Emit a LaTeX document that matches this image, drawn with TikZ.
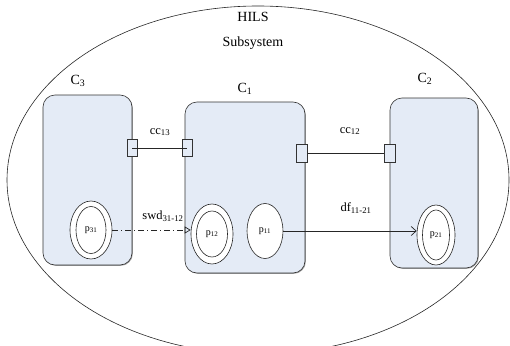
\documentclass[tikz,border=0pt]{standalone}
\usepackage{fontspec}
\setmainfont{Liberation Serif}
\usetikzlibrary{arrows.meta,shapes.geometric,shadows}
\definecolor{compfill}{HTML}{E4EBF6}
\begin{document}
\begin{tikzpicture}[x=1pt,y=-1pt,
  comp/.style={draw=black!80, fill=compfill, rounded corners=12pt, line width=0.6pt,
    inner sep=0pt, drop shadow={shadow xshift=0.8pt, shadow yshift=-0.8pt, fill=black!60, opacity=0.6}},
  port/.style={draw=black!80, fill=compfill, inner sep=0pt, line width=0.6pt},
  placeshape/.style={ellipse, draw=black!85, fill=white, inner sep=0pt, line width=0.6pt},
  lbl/.style={font=\fontsize{14}{16}\selectfont, inner sep=0pt},
  arclbl/.style={font=\fontsize{12.5}{14}\selectfont, inner sep=0pt},
  ptxt/.style={font=\fontsize{10}{12}\selectfont},
  link/.style={draw=black!85, line width=0.7pt}
]
\clip (0,0) rectangle (510,345);
\useasboundingbox (0,0) rectangle (510,345);

% subsystem boundary
\draw[black!85, line width=0.6pt] (258,180) ellipse [x radius=251, y radius=174];
\node[lbl] (hils) at (253,17) {HILS};
\node[lbl] (subsys) at (253,43) {Subsystem};

% components
\node[comp, minimum width=89pt, minimum height=170pt] (c3) at (87.5,180) {};
\node[comp, minimum width=120pt, minimum height=171pt] (c1) at (245,187.5) {};
\node[comp, minimum width=88pt, minimum height=170pt] (c2) at (434,183) {};
\node[lbl] (c3lbl) at (78,81) {C\textsubscript{3}};
\node[lbl] (c1lbl) at (245,89) {C\textsubscript{1}};
\node[lbl] (c2lbl) at (425,79) {C\textsubscript{2}};

% ports
\node[port, minimum width=10pt, minimum height=17pt] (p3r) at (132,148) {};
\node[port, minimum width=10pt, minimum height=17pt] (p1l) at (187,148) {};
\node[port, minimum width=11pt, minimum height=18pt] (p1r) at (302,153) {};
\node[port, minimum width=11pt, minimum height=18pt] (p2l) at (390,153) {};

% port connectors
\draw[link] (p3r.center) -- (p1l.center);
\draw[link] (p1r.east) -- (p2l.west);
\node[arclbl] (cc13) at (160,132) {cc\textsubscript{13}};
\node[arclbl] (cc12) at (350,131) {cc\textsubscript{12}};

% places
\node[placeshape, minimum width=42pt, minimum height=58pt] (p31o) at (91,230) {};
\node[placeshape, minimum width=30pt, minimum height=47pt, ptxt] (p31) at (91,230) {p\textsubscript{31}};
\node[placeshape, minimum width=42pt, minimum height=60pt] (p12o) at (212,234) {};
\node[placeshape, minimum width=31pt, minimum height=46pt, ptxt] (p12) at (212,234) {p\textsubscript{12}};
\node[placeshape, minimum width=36pt, minimum height=55pt, ptxt] (p11) at (265,231) {p\textsubscript{11}};
\node[placeshape, minimum width=38pt, minimum height=60pt] (p21o) at (436,235) {};
\node[placeshape, minimum width=27pt, minimum height=50pt, ptxt] (p21) at (436,235) {p\textsubscript{21}};

% place connectors
\draw[link, dash pattern=on 6pt off 3pt on 1pt off 3pt, -{Triangle[open, length=6pt, width=7pt]}]
  (p31o.east) -- (p31o.east -| p12o.west);
\draw[link, -{Straight Barb[length=5pt, width=9pt]}]
  (p11.east) -- (p11.east -| p21o.west);
\node[arclbl] (swd) at (163,216) {swd\textsubscript{31-12}};
\node[arclbl] (df) at (356,208) {df\textsubscript{11-21}};
\end{tikzpicture}
\end{document}
